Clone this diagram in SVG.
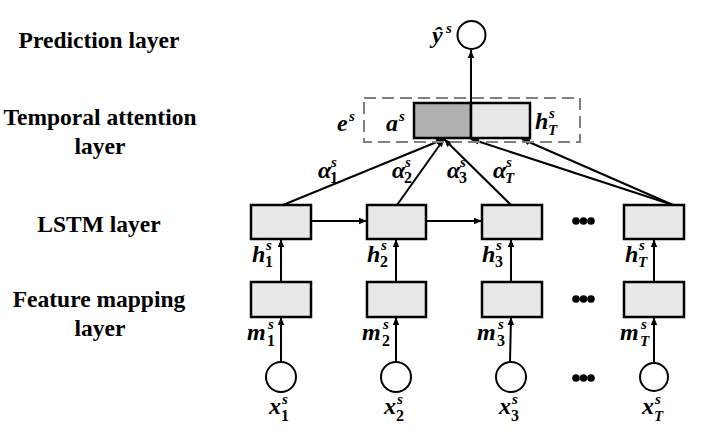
<svg xmlns="http://www.w3.org/2000/svg" width="717" height="443" viewBox="0 0 717 443">
<style>
.lbl{font-family:"Liberation Serif","Times New Roman",serif;font-weight:bold;font-size:23.5px;fill:#000;text-anchor:middle}
.m{font-family:"Liberation Serif","DejaVu Serif",serif;font-weight:bold;font-style:italic;font-size:24px;fill:#000}
.ss{font-family:"Liberation Serif","DejaVu Serif",serif;font-weight:bold;font-style:italic;font-size:15px;fill:#000}
.sn{font-family:"Liberation Serif","DejaVu Serif",serif;font-weight:bold;font-size:16px;fill:#000}
.box{fill:#e8e8e8;stroke:#000;stroke-width:2.5}
.circ{fill:#fff;stroke:#000;stroke-width:2}
.ln{stroke:#000;stroke-width:2;fill:none}
</style>
<defs>
<marker id="ah" viewBox="0 0 10 10" refX="10" refY="5" markerWidth="4" markerHeight="4" orient="auto" markerUnits="strokeWidth">
<path d="M0,1 L10,5 L0,9 z" fill="#000"/>
</marker>
</defs>

<g id="layer-labels">
<text class="lbl" x="99" y="48">Prediction layer</text>
<text class="lbl" x="100" y="125">Temporal attention</text>
<text class="lbl" x="100" y="154">layer</text>
<text class="lbl" x="99" y="232">LSTM layer</text>
<text class="lbl" x="99" y="307">Feature mapping</text>
<text class="lbl" x="100" y="336">layer</text>
</g>

<g id="connectors">
<line class="ln" x1="471" y1="103" x2="471" y2="50" marker-end="url(#ah)"/>
<line class="ln" x1="283" y1="205" x2="444" y2="139" marker-end="url(#ah)"/>
<line class="ln" x1="397" y1="205" x2="444" y2="139" marker-end="url(#ah)"/>
<line class="ln" x1="511" y1="205" x2="444" y2="139" marker-end="url(#ah)"/>
<line class="ln" x1="673" y1="205" x2="471" y2="139" marker-end="url(#ah)"/>
<line class="ln" x1="673" y1="205" x2="522" y2="139" marker-end="url(#ah)"/>
<line class="ln" x1="311" y1="221" x2="367" y2="221" marker-end="url(#ah)"/>
<line class="ln" x1="426" y1="221" x2="482" y2="221" marker-end="url(#ah)"/>
<line class="ln" x1="281" y1="282" x2="281" y2="239" marker-end="url(#ah)"/>
<line class="ln" x1="396" y1="282" x2="396" y2="239" marker-end="url(#ah)"/>
<line class="ln" x1="511" y1="282" x2="511" y2="239" marker-end="url(#ah)"/>
<line class="ln" x1="654" y1="282" x2="654" y2="239" marker-end="url(#ah)"/>
<line class="ln" x1="281" y1="362" x2="281" y2="317" marker-end="url(#ah)"/>
<line class="ln" x1="396" y1="362" x2="396" y2="317" marker-end="url(#ah)"/>
<line class="ln" x1="510" y1="362" x2="511" y2="317" marker-end="url(#ah)"/>
<line class="ln" x1="654" y1="362" x2="654" y2="317" marker-end="url(#ah)"/>
</g>

<g id="prediction">
<circle class="circ" cx="471.5" cy="35" r="14"/>
<text class="m" x="432" y="43">ŷ</text><text class="ss" x="446" y="33">s</text>
</g>

<g id="attention">
<rect x="364" y="98" width="216" height="44" fill="none" stroke="#808080" stroke-width="2" stroke-dasharray="12,6"/>
<rect x="414" y="103" width="57" height="35" fill="#b0b0b0" stroke="#000" stroke-width="2.5"/>
<rect x="471" y="103" width="59" height="35" class="box"/>
<text class="m" x="337" y="131">e</text><text class="ss" x="349" y="121">s</text>
<text class="m" x="386" y="131">a</text><text class="ss" x="399" y="121">s</text>
<text class="m" x="535" y="129">h</text><text class="ss" x="549" y="118">s</text><text class="ss" x="548" y="135">T</text>
</g>

<g id="alpha-labels">
<text class="m" x="318" y="178">α</text><text class="ss" x="331" y="167">s</text><text class="sn" x="330" y="183">1</text>
<text class="m" x="392" y="178">α</text><text class="ss" x="405" y="167">s</text><text class="sn" x="404" y="183">2</text>
<text class="m" x="447" y="178">α</text><text class="ss" x="460" y="167">s</text><text class="sn" x="459" y="183">3</text>
<text class="m" x="493" y="178">α</text><text class="ss" x="506" y="167">s</text><text class="ss" x="505" y="183">T</text>
</g>

<g id="lstm-1"><rect class="box" x="251" y="205" width="60" height="34"/></g>
<g id="lstm-2"><rect class="box" x="367" y="205" width="59" height="34"/></g>
<g id="lstm-3"><rect class="box" x="482" y="205" width="60" height="34"/></g>
<g id="lstm-T"><rect class="box" x="624" y="205" width="60" height="34"/></g>

<g id="h-labels">
<text class="m" x="252" y="262">h</text><text class="ss" x="266" y="250">s</text><text class="sn" x="265" y="267">1</text>
<text class="m" x="367" y="262">h</text><text class="ss" x="381" y="250">s</text><text class="sn" x="380" y="267">2</text>
<text class="m" x="482" y="262">h</text><text class="ss" x="496" y="250">s</text><text class="sn" x="495" y="267">3</text>
<text class="m" x="625" y="262">h</text><text class="ss" x="639" y="250">s</text><text class="ss" x="638" y="267">T</text>
</g>

<g id="feat-1"><rect class="box" x="251" y="282" width="60" height="35"/></g>
<g id="feat-2"><rect class="box" x="367" y="282" width="59" height="35"/></g>
<g id="feat-3"><rect class="box" x="482" y="282" width="60" height="35"/></g>
<g id="feat-T"><rect class="box" x="624" y="282" width="60" height="35"/></g>

<g id="m-labels">
<text class="m" x="247" y="340">m</text><text class="ss" x="268" y="329">s</text><text class="sn" x="267" y="346">1</text>
<text class="m" x="362" y="340">m</text><text class="ss" x="383" y="329">s</text><text class="sn" x="382" y="346">2</text>
<text class="m" x="477" y="340">m</text><text class="ss" x="498" y="329">s</text><text class="sn" x="497" y="346">3</text>
<text class="m" x="620" y="340">m</text><text class="ss" x="641" y="329">s</text><text class="ss" x="640" y="346">T</text>
</g>

<g id="x-1"><circle class="circ" cx="281" cy="377" r="15"/><text class="m" x="269" y="414">x</text><text class="ss" x="282" y="404">s</text><text class="sn" x="281" y="421">1</text></g>
<g id="x-2"><circle class="circ" cx="396" cy="377" r="15"/><text class="m" x="384" y="414">x</text><text class="ss" x="397" y="404">s</text><text class="sn" x="396" y="421">2</text></g>
<g id="x-3"><circle class="circ" cx="511" cy="377" r="15"/><text class="m" x="499" y="414">x</text><text class="ss" x="512" y="404">s</text><text class="sn" x="511" y="421">3</text></g>
<g id="x-T"><circle class="circ" cx="654" cy="377" r="14"/><text class="m" x="642" y="414">x</text><text class="ss" x="655" y="404">s</text><text class="ss" x="654" y="421">T</text></g>

<g id="ellipsis">
<g fill="#000">
<circle cx="576" cy="221" r="3.8"/><circle cx="583.5" cy="221" r="3.8"/><circle cx="591" cy="221" r="3.8"/>
<circle cx="576" cy="299" r="3.8"/><circle cx="583.5" cy="299" r="3.8"/><circle cx="591" cy="299" r="3.8"/>
<circle cx="576" cy="378" r="3.8"/><circle cx="583.5" cy="378" r="3.8"/><circle cx="591" cy="378" r="3.8"/>
</g>
</g>
</svg>
